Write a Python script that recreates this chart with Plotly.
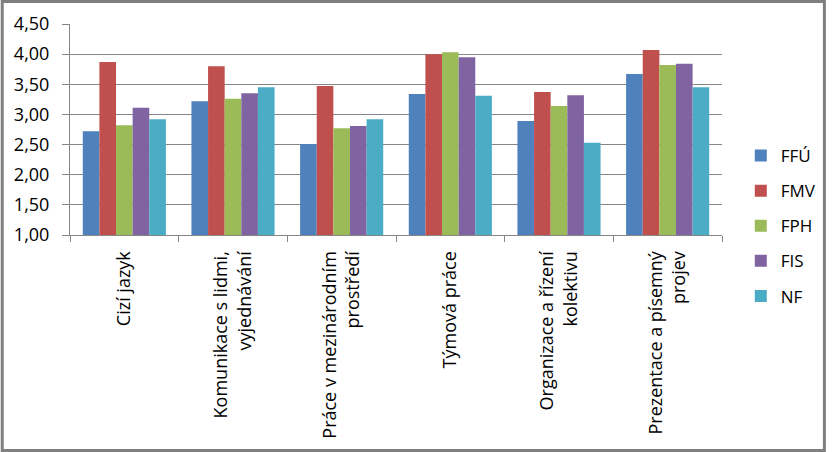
import plotly.graph_objects as go

categories = ["Cizí jazyk", "Komunikace s lidmi,<br>vyjednávání", "Práce v mezinárodním<br>prostředí",
              "Týmová práce", "Organizace a řízení<br>kolektivu", "Prezentace a písemný<br>projev"]
series_names = ["FFÚ", "FMV", "FPH", "FIS", "NF"]
ffu = [2.72, 3.22, 2.51, 3.34, 2.89, 3.67]
fmv = [3.87, 3.80, 3.47, 4.00, 3.37, 4.07]
fph = [2.82, 3.26, 2.77, 4.03, 3.14, 3.82]
fis = [3.11, 3.35, 2.81, 3.95, 3.32, 3.84]
nf = [2.92, 3.45, 2.92, 3.31, 2.53, 3.45]
tick_vals = [1.0, 1.5, 2.0, 2.5, 3.0, 3.5, 4.0, 4.5]
tick_text = ["1,00", "1,50", "2,00", "2,50", "3,00", "3,50", "4,00", "4,50"]
colors = ["#4F81BD", "#C0504D", "#9BBB59", "#8064A2", "#4BACC6"]

W, H = 834, 452
ml, mr, mt, mb = 70, 105, 24, 217
pw, ph = W - ml - mr, H - mt - mb

fig = go.Figure()
for name, vals, c in zip(series_names, [ffu, fmv, fph, fis, nf], colors):
    fig.add_trace(go.Bar(name=name, x=categories, y=vals, marker_color=c,
                         marker_line_width=0, legendgroup=name))

fig.update_layout(
    width=W, height=H,
    margin=dict(l=ml, r=mr, t=mt, b=mb, pad=0),
    paper_bgcolor="white", plot_bgcolor="white",
    barmode="group", bargap=0.235, bargroupgap=0,
    font=dict(family="Open Sans", color="black"),
    showlegend=True,
    legend=dict(x=(748 - ml) / pw, y=1 + (mt - 138) / ph, xanchor="left", yanchor="top",
                font=dict(size=17), traceorder="grouped", tracegroupgap=10,
                bgcolor="rgba(0,0,0,0)"),
)
fig.update_yaxes(range=[1.0, 4.5], tickvals=tick_vals, ticktext=tick_text,
                 showgrid=True, gridcolor="#868686", gridwidth=1,
                 showline=True, linecolor="#868686", linewidth=1,
                 ticks="outside", ticklen=7, tickcolor="#868686",
                 tickfont=dict(size=18), ticklabelstandoff=9, zeroline=False)
fig.update_xaxes(showline=True, linecolor="#868686", linewidth=1,
                 ticks="outside", ticklen=6, tickcolor="#868686", tickson="boundaries",
                 tickangle=-90, tickfont=dict(size=18), ticklabelstandoff=8)

fig.add_shape(type="rect", xref="paper", yref="paper",
              x0=-(ml - 1.5) / pw, x1=(W - ml - 1.5) / pw,
              y0=-(mb - 1.5) / ph, y1=1 + (mt - 1.5) / ph,
              line=dict(color="#7F7F7F", width=3), fillcolor="rgba(0,0,0,0)", layer="above")

fig.write_html("out.html")
